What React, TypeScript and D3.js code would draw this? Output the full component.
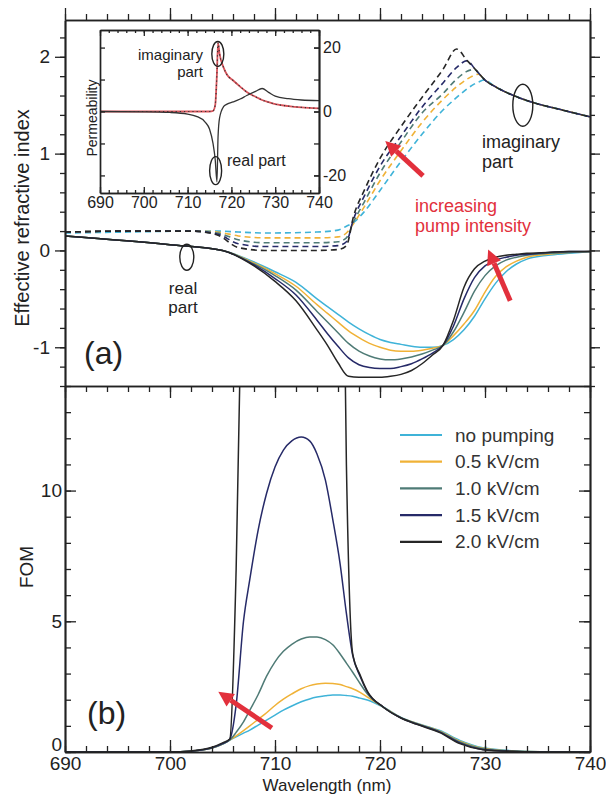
import React, { useEffect, useRef } from "react";
import * as d3 from "d3";

// legend / series
const seriesNames = ["no pumping", "0.5 kV/cm", "1.0 kV/cm", "1.5 kV/cm", "2.0 kV/cm"];
const seriesColors = ["#3fb3d8", "#f0b237", "#4f7b76", "#262a68", "#262626"];

// panel (a): real part of effective index
const wlReal = [690, 700, 705, 708, 710, 712, 714, 715, 716, 717, 718, 719, 720, 721, 722, 723, 724, 725, 726, 727, 728, 729, 730, 731, 732, 733, 734, 736, 738, 740];
const realNoPump = [0.15, 0.06, 0.0, -0.12, -0.22, -0.33, -0.5, -0.58, -0.66, -0.74, -0.81, -0.87, -0.92, -0.95, -0.97, -0.99, -1.0, -1.0, -0.98, -0.92, -0.82, -0.68, -0.5, -0.34, -0.22, -0.14, -0.09, -0.05, -0.03, -0.01];
const real05 = [0.15, 0.06, 0.0, -0.13, -0.24, -0.37, -0.56, -0.65, -0.74, -0.83, -0.9, -0.96, -1.0, -1.03, -1.04, -1.04, -1.03, -1.01, -0.98, -0.88, -0.76, -0.62, -0.43, -0.27, -0.17, -0.11, -0.07, -0.04, -0.02, -0.01];
const real10 = [0.15, 0.06, 0.0, -0.14, -0.26, -0.41, -0.63, -0.74, -0.85, -0.96, -1.04, -1.09, -1.12, -1.13, -1.12, -1.1, -1.07, -1.03, -0.98, -0.84, -0.64, -0.42, -0.26, -0.16, -0.1, -0.07, -0.05, -0.03, -0.02, -0.01];
const real15 = [0.15, 0.06, 0.0, -0.15, -0.29, -0.46, -0.72, -0.86, -0.99, -1.11, -1.18, -1.21, -1.22, -1.22, -1.2, -1.17, -1.12, -1.06, -0.98, -0.78, -0.5, -0.28, -0.16, -0.1, -0.07, -0.05, -0.04, -0.02, -0.01, -0.01];
const real20 = [0.15, 0.06, 0.0, -0.16, -0.32, -0.52, -0.82, -0.98, -1.16, -1.3, -1.31, -1.31, -1.31, -1.3, -1.28, -1.24, -1.17, -1.08, -0.98, -0.72, -0.38, -0.19, -0.11, -0.07, -0.05, -0.04, -0.03, -0.02, -0.01, -0.01];

// panel (a): imaginary part (dashed)
const wlImag = [690, 696, 702, 704.5, 706.5, 709, 714, 716, 716.8, 717.5, 718.5, 720, 722, 724, 726, 727.3, 728.3, 729, 729.4, 729.9, 731, 732.5, 734.5, 737, 740];
const imagNoPump = [0.18, 0.19, 0.2, 0.2, 0.19, 0.18, 0.19, 0.21, 0.25, 0.29, 0.4, 0.62, 0.92, 1.2, 1.45, 1.58, 1.67, 1.72, 1.74, 1.76, 1.69, 1.61, 1.53, 1.46, 1.38];
const imag05 = [0.19, 0.2, 0.2, 0.19, 0.15, 0.13, 0.13, 0.14, 0.18, 0.28, 0.45, 0.72, 1.03, 1.32, 1.56, 1.69, 1.77, 1.81, 1.82, 1.77, 1.69, 1.61, 1.53, 1.46, 1.38];
const imag10 = [0.19, 0.2, 0.2, 0.18, 0.11, 0.08, 0.08, 0.09, 0.13, 0.3, 0.5, 0.8, 1.12, 1.42, 1.62, 1.77, 1.85, 1.87, 1.83, 1.77, 1.69, 1.61, 1.53, 1.46, 1.38];
const imag15 = [0.19, 0.2, 0.2, 0.17, 0.07, 0.04, 0.04, 0.05, 0.09, 0.33, 0.56, 0.87, 1.18, 1.48, 1.73, 1.89, 1.96, 1.88, 1.83, 1.77, 1.69, 1.61, 1.53, 1.46, 1.38];
const imag20 = [0.19, 0.2, 0.2, 0.16, 0.03, 0.0, 0.0, 0.01, 0.05, 0.36, 0.62, 0.95, 1.28, 1.58, 1.87, 2.08, 1.96, 1.88, 1.83, 1.77, 1.69, 1.61, 1.53, 1.46, 1.38];

// panel (b): figure of merit
const wlFom = [690, 700, 702, 704, 705, 705.7, 706.3, 707, 707.6, 708.4, 709.2, 710, 710.8, 711.6, 712.5, 713.3, 714, 714.8, 715.5, 716.2, 716.8, 717.4, 718.1, 718.8, 720.3, 722, 723.5, 725.7, 727.6, 729.8, 733, 736, 740];
const fomNoPump = [0, 0, 0.03, 0.15, 0.3, 0.46, 0.58, 0.72, 0.84, 1.03, 1.22, 1.41, 1.6, 1.76, 1.92, 2.03, 2.1, 2.15, 2.18, 2.18, 2.16, 2.13, 2.06, 1.99, 1.72, 1.32, 1.1, 0.82, 0.44, 0.16, 0.04, 0.01, 0];
const fom05 = [0, 0, 0.03, 0.15, 0.3, 0.46, 0.62, 0.82, 1.0, 1.25, 1.5, 1.78, 2.02, 2.22, 2.42, 2.54, 2.6, 2.63, 2.62, 2.58, 2.5, 2.42, 2.28, 2.1, 1.72, 1.31, 1.09, 0.8, 0.41, 0.14, 0.03, 0.01, 0];
const fom10 = [0, 0, 0.03, 0.15, 0.3, 0.46, 0.75, 1.15, 1.6, 2.2, 2.9, 3.45, 3.85, 4.12, 4.32, 4.4, 4.4, 4.3, 4.1, 3.75, 3.4, 3.05, 2.62, 2.22, 1.72, 1.31, 1.08, 0.78, 0.38, 0.12, 0.03, 0.01, 0];
const fom15 = [0, 0, 0.03, 0.16, 0.32, 0.5, 1.8, 5.0, 6.6, 8.5, 9.9, 10.9, 11.55, 11.9, 12.05, 11.9, 11.4, 10.4, 8.9, 7.2, 5.3, 3.7, 2.9, 2.3, 1.72, 1.3, 1.07, 0.76, 0.35, 0.1, 0.02, 0, 0];
const fom20 = [0, 0, 0.04, 0.18, 0.35, 0.5, 7, 22, 35, 40, 40, 40, 40, 40, 40, 40, 40, 40, 40, 30, 11, 3.75, 2.95, 2.32, 1.72, 1.3, 1.06, 0.74, 0.32, 0.09, 0.02, 0, 0];

// inset: permeability
const wlInset = [690, 700, 706, 710, 712, 714, 715, 715.8, 716.3, 716.7, 716.95, 717.3, 718.2, 719, 720.4, 722, 723.5, 725.5, 727, 728.5, 730, 733, 736, 740];
const muImag = [0, 0, 0, 0, 0, 0, 0, 0.2, 2, 12, 21.5, 18, 13.8, 11.5, 9.7, 7.8, 6.1, 4.6, 3.6, 2.9, 2.3, 1.7, 1.3, 1.0];
const muReal = [0, -0.1, -0.3, -0.8, -1.5, -3.3, -5.5, -10, -15, -22, -8, -2, 1.5, 2.3, 3, 3.9, 5, 6.3, 7.2, 6, 4.8, 4, 3.6, 3.4];

const xTicks = [690, 700, 710, 720, 730, 740];
const yTicksA = [-1, 0, 1, 2];
const yTicksB = [0, 5, 10];
const insetYTicks = [-20, 0, 20];

const realSeries = [realNoPump, real05, real10, real15, real20];
const imagSeries = [imagNoPump, imag05, imag10, imag15, imag20];
const fomSeries = [fomNoPump, fom05, fom10, fom15, fom20];

const ink = "#222";
const red = "#e2303c";
const font = "'Liberation Sans', Arial, Helvetica, sans-serif";

export default function App() {
  const ref = useRef<SVGSVGElement>(null);

  useEffect(() => {
    const svg = d3.select(ref.current);
    svg.selectAll("*").remove();

    const left = 65, right = 590, topA = 20, mid = 386, bottom = 752;

    const x = d3.scaleLinear().domain([690, 740]).range([left, right]);
    const yA = d3.scaleLinear().domain([-1.4, 2.38]).range([mid, topA]);
    const yB = d3.scaleLinear().domain([0, 14]).range([bottom, mid]);
    const xi = d3.scaleLinear().domain([690, 740]).range([100, 319]);
    const yi = d3.scaleLinear().domain([-25.5, 25.5]).range([193, 30]);

    const minorX = d3.range(690, 740.01, 2);
    const minorYA = d3.range(-14, 24, 2).map((d) => d / 10);
    const minorYB = d3.range(0, 15, 1);

    const path = (wl, vals, xs, ys) =>
      d3
        .line<[number, number]>()
        .x((d) => xs(d[0]))
        .y((d) => ys(d[1]))
        .curve(d3.curveMonotoneX)(d3.zip(wl, vals) as [number, number][]);

    const styleAxis = (g, size = 19) => {
      g.attr("font-family", font).attr("font-size", size);
      g.select(".domain").attr("stroke", ink).attr("stroke-width", 1.7).attr("fill", "none");
      g.selectAll(".tick line").attr("stroke", ink).attr("stroke-width", 1.3);
      g.selectAll(".tick text").attr("fill", ink);
    };

    const axis = (gen, transform, size = 19) => {
      const g = svg.append("g").attr("transform", transform).call(gen);
      styleAxis(g, size);
      return g;
    };

    const noLabel = () => "";

    // clips
    const defs = svg.append("defs");
    defs.append("clipPath").attr("id", "clipA").append("rect")
      .attr("x", left).attr("y", topA).attr("width", right - left).attr("height", mid - topA);
    defs.append("clipPath").attr("id", "clipB").append("rect")
      .attr("x", left).attr("y", mid).attr("width", right - left).attr("height", bottom - mid);

    // ---------- panel (a) curves ----------
    const gA = svg.append("g").attr("clip-path", "url(#clipA)");
    imagSeries.forEach((vals, i) => {
      gA.append("path")
        .attr("d", path(wlImag, vals, x, yA))
        .attr("fill", "none")
        .attr("stroke", seriesColors[i])
        .attr("stroke-width", 1.6)
        .attr("stroke-dasharray", "6,4");
    });
    realSeries.forEach((vals, i) => {
      gA.append("path")
        .attr("d", path(wlReal, vals, x, yA))
        .attr("fill", "none")
        .attr("stroke", seriesColors[i])
        .attr("stroke-width", 1.5);
    });

    // panel (a) axes, ticks outward
    axis(d3.axisLeft(yA).tickValues(minorYA).tickSize(5).tickSizeOuter(0).tickFormat(noLabel), `translate(${left},0)`);
    axis(d3.axisLeft(yA).tickValues(yTicksA).tickSize(10).tickSizeOuter(0).tickPadding(5).tickFormat((d) => String(d)), `translate(${left},0)`);
    axis(d3.axisRight(yA).tickValues(minorYA).tickSize(5).tickSizeOuter(0).tickFormat(noLabel), `translate(${right},0)`);
    axis(d3.axisRight(yA).tickValues(yTicksA).tickSize(10).tickSizeOuter(0).tickFormat(noLabel), `translate(${right},0)`);
    axis(d3.axisTop(x).tickValues(minorX).tickSize(6).tickSizeOuter(0).tickFormat(noLabel), `translate(0,${topA})`);
    axis(d3.axisTop(x).tickValues(xTicks).tickSize(12).tickSizeOuter(0).tickFormat(noLabel), `translate(0,${topA})`);

    // ---------- panel (b) curves ----------
    const gB = svg.append("g").attr("clip-path", "url(#clipB)");
    fomSeries.forEach((vals, i) => {
      gB.append("path")
        .attr("d", path(wlFom, vals, x, yB))
        .attr("fill", "none")
        .attr("stroke", seriesColors[i])
        .attr("stroke-width", 1.5);
    });

    // panel (b) axes, ticks inward
    axis(d3.axisLeft(yB).tickValues(minorYB).tickSize(-6).tickSizeOuter(0).tickFormat(noLabel), `translate(${left},0)`);
    const yAxisB = axis(d3.axisLeft(yB).tickValues(yTicksB).tickSize(-11).tickSizeOuter(0).tickPadding(3).tickFormat((d) => String(d)), `translate(${left},0)`);
    // the "0" sits a little above the corner, clear of "690"
    yAxisB.selectAll(".tick text").filter((d) => d === 0).attr("dy", "-0.08em");
    axis(d3.axisRight(yB).tickValues(minorYB).tickSize(-6).tickSizeOuter(0).tickFormat(noLabel), `translate(${right},0)`);
    axis(d3.axisRight(yB).tickValues(yTicksB).tickSize(-11).tickSizeOuter(0).tickFormat(noLabel), `translate(${right},0)`);
    axis(d3.axisTop(x).tickValues(minorX).tickSize(-6).tickSizeOuter(0).tickFormat(noLabel), `translate(0,${mid})`);
    axis(d3.axisTop(x).tickValues(xTicks).tickSize(-12).tickSizeOuter(0).tickFormat(noLabel), `translate(0,${mid})`);
    axis(d3.axisBottom(x).tickValues(minorX).tickSize(-6).tickSizeOuter(0).tickFormat(noLabel), `translate(0,${bottom})`);
    axis(d3.axisBottom(x).tickValues(xTicks).tickSize(-12).tickSizeOuter(0).tickPadding(5).tickFormat((d) => String(d)), `translate(0,${bottom})`);

    // ---------- inset ----------
    svg.append("rect").attr("x", 100).attr("y", 30).attr("width", 219).attr("height", 163).attr("fill", "#fff");
    const gI = svg.append("g");
    gI.append("path").attr("d", path(wlInset, muImag, xi, yi)).attr("fill", "none")
      .attr("stroke", "#d9545b").attr("stroke-width", 1.8);
    gI.append("path").attr("d", path(wlInset, muImag, xi, yi)).attr("fill", "none")
      .attr("stroke", "#333").attr("stroke-width", 1.2).attr("stroke-dasharray", "1.2,3");
    gI.append("path").attr("d", path(wlInset, muReal, xi, yi)).attr("fill", "none")
      .attr("stroke", "#333").attr("stroke-width", 1.3);

    const insetMinorX = d3.range(690, 740.01, 2);
    axis(d3.axisTop(xi).tickValues(insetMinorX).tickSize(-3).tickSizeOuter(0).tickFormat(noLabel), "translate(0,30)", 16);
    axis(d3.axisTop(xi).tickValues(xTicks).tickSize(-6).tickSizeOuter(0).tickFormat(noLabel), "translate(0,30)", 16);
    axis(d3.axisBottom(xi).tickValues(insetMinorX).tickSize(-3).tickSizeOuter(0).tickFormat(noLabel), "translate(0,193)", 16);
    axis(d3.axisBottom(xi).tickValues(xTicks).tickSize(-6).tickSizeOuter(0).tickPadding(4).tickFormat((d) => String(d)), "translate(0,193)", 16);
    axis(d3.axisLeft(yi).tickValues([-20, -10, 0, 10, 20]).tickSize(-5).tickSizeOuter(0).tickFormat(noLabel), "translate(100,0)", 16);
    axis(d3.axisRight(yi).tickValues([-20, -10, 0, 10, 20]).tickSize(-5).tickSizeOuter(0).tickFormat(noLabel), "translate(319,0)", 16);
    axis(d3.axisRight(yi).tickValues(insetYTicks).tickSize(-5).tickSizeOuter(0).tickPadding(4).tickFormat((d) => String(d)), "translate(319,0)", 16);

    // ---------- annotations ----------
    const txt = (s, xx, yy, opts: any = {}) =>
      svg.append("text")
        .attr("x", xx).attr("y", yy)
        .attr("font-family", font)
        .attr("font-size", opts.size || 19)
        .attr("fill", opts.fill || ink)
        .attr("text-anchor", opts.anchor || "start")
        .attr("transform", opts.transform || null)
        .text(s);

    txt("Effective refractive index", 0, 0, { anchor: "middle", transform: "translate(29,218) rotate(-90)", size: 20 });
    txt("FOM", 0, 0, { anchor: "middle", transform: "translate(33,567) rotate(-90)", size: 19 });
    txt("Wavelength (nm)", 327, 791, { anchor: "middle", size: 17 });
    txt("(a)", 84, 364, { size: 32 });
    txt("(b)", 87, 724, { size: 32 });

    txt("real", 183, 294, { anchor: "middle", size: 17 });
    txt("part", 183, 313, { anchor: "middle", size: 17 });
    txt("imaginary", 482, 148, { size: 18 });
    txt("part", 482, 168, { size: 18 });
    txt("increasing", 415, 212, { size: 18, fill: red });
    txt("pump intensity", 415, 232, { size: 18, fill: red });

    txt("Permeability", 0, 0, { anchor: "middle", transform: "translate(97,118) rotate(-90)", size: 14 });
    txt("imaginary", 203, 60, { anchor: "end", size: 15 });
    txt("part", 203, 77, { anchor: "end", size: 15 });
    txt("real part", 227, 166, { size: 16 });

    const ellipse = (cx, cy, rx, ry) =>
      svg.append("ellipse").attr("cx", cx).attr("cy", cy).attr("rx", rx).attr("ry", ry)
        .attr("fill", "none").attr("stroke", ink).attr("stroke-width", 1.4);
    ellipse(x(701.6), yA(-0.07), 7, 13);
    ellipse(x(733.6), yA(1.5), 10, 21);
    ellipse(xi(716.9), yi(18), 6, 12.5);
    ellipse(xi(716.4), yi(-18.5), 6, 14);

    // red arrows
    const arrow = (x0, y0, x1, y1) => {
      const ang = Math.atan2(y1 - y0, x1 - x0);
      const L = 15, w = 7.5;
      const bx = x1 - L * Math.cos(ang), by = y1 - L * Math.sin(ang);
      svg.append("line").attr("x1", x0).attr("y1", y0).attr("x2", bx).attr("y2", by)
        .attr("stroke", red).attr("stroke-width", 5);
      svg.append("polygon")
        .attr("points", [
          [x1, y1],
          [bx + w * Math.sin(ang), by - w * Math.cos(ang)],
          [bx - w * Math.sin(ang), by + w * Math.cos(ang)],
        ].map((p) => p.join(",")).join(" "))
        .attr("fill", red);
    };
    arrow(x(724.1), yA(0.77), x(720.5), yA(1.13));
    arrow(x(732.4), yA(-0.52), x(730.3), yA(0.01));
    arrow(x(709.7), yB(0.92), x(704.6), yB(2.3));

    // legend
    const leg = svg.append("g").attr("font-family", font).attr("font-size", 19);
    seriesNames.forEach((name, i) => {
      const yy = 435 + i * 26.7;
      leg.append("line").attr("x1", 400).attr("x2", 442).attr("y1", yy).attr("y2", yy)
        .attr("stroke", seriesColors[i]).attr("stroke-width", 2.2);
      leg.append("text").attr("x", 455).attr("y", yy).attr("dy", "0.35em").attr("fill", "#333").text(name);
    });
  }, []);

  return (
    <svg
      ref={ref}
      width={606}
      height={798}
      style={{ position: "absolute", left: 0, top: 0, background: "#fff" }}
    />
  );
}
